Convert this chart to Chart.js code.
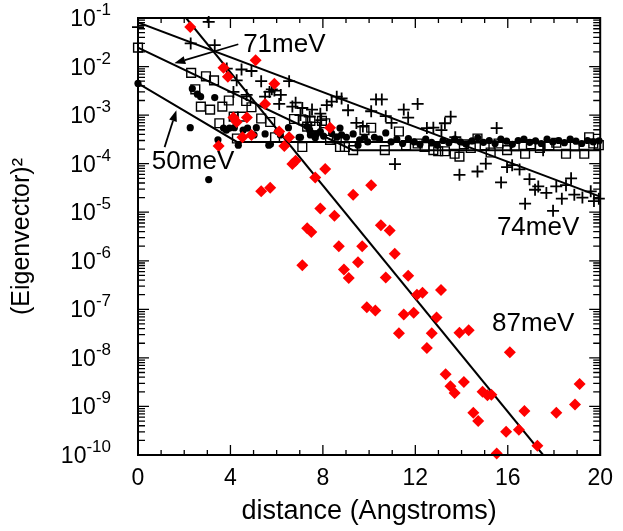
<!DOCTYPE html>
<html>
<head>
<meta charset="utf-8">
<script src="https://cdn.jsdelivr.net/npm/chart.js@4.4.0/dist/chart.umd.min.js"></script>
<style>
    html, body { margin: 0; padding: 0; background: #fff; }
    canvas { display: block; }
</style>
</head>
<body>
<canvas id="chart" width="623" height="531"></canvas>
<script>
// 50meV (filled circles)
const x50 = [0, 2.26, 2.35, 2.57, 2.71, 3.06, 3.32, 3.46, 3.70, 3.82, 3.96, 4.17, 4.34, 4.55, 4.74, 5.02, 5.12, 5.50, 5.66, 5.73,
    6.04, 6.16, 6.51, 6.97, 7.03, 7.32, 7.43, 7.46, 7.67, 7.72, 7.89, 8.03, 8.38, 8.60, 8.74, 8.81, 9.02, 9.31, 9.52, 9.59,
    9.80, 9.94, 10.23, 10.45, 10.72, 10.95, 11.2, 11.45, 11.7, 11.95, 12.2, 12.45, 12.7, 12.95, 13.2, 13.45, 13.7, 13.95,
    14.2, 14.45, 14.7, 14.95, 15.2, 15.45, 15.7, 15.95, 16.2, 16.45, 16.7, 16.95, 17.2, 17.45, 17.7, 17.95, 18.2, 18.45,
    18.7, 18.95, 19.2, 19.45, 19.7, 19.95]
const y50 = [4.5e-3, 5.5e-4, 3.5e-3, 2.7e-3, 2.4e-3, 4.7e-5, 2.3e-3, 3.1e-4, 5.4e-4, 4.9e-4, 5.4e-4, 5.5e-4, 2.4e-4, 4.9e-4, 5.4e-4, 3.9e-4, 5.5e-4, 4.1e-4, 2.4e-4, 2.5e-4,
    4.6e-4, 3.9e-4, 5.5e-4, 3.5e-4, 3.5e-4, 5.8e-4, 4.9e-4, 3.9e-4, 3.4e-4, 4.1e-4, 4.6e-4, 3.7e-4, 4.2e-4, 3.5e-4, 5.4e-4, 3.9e-4, 3.5e-4, 4.1e-4, 2.4e-4, 3.1e-4,
    3.5e-4, 2.8e-4, 3.5e-4, 3.2e-4, 4.3e-4, 2.8e-4, 3.2e-4, 2.6e-4, 3.3e-4, 2.8e-4, 2.5e-4, 3.2e-4, 2.75e-4, 2.4e-4, 3.0e-4, 2.7e-4, 3.2e-4, 2.8e-4,
    2.5e-4, 2.95e-4, 3.4e-4, 2.75e-4, 3.0e-4, 2.6e-4, 3.2e-4, 2.9e-4, 2.5e-4, 3.0e-4, 3.2e-4, 2.75e-4, 2.95e-4, 2.6e-4, 3.2e-4, 2.8e-4, 3.0e-4, 2.7e-4,
    3.2e-4, 2.9e-4, 2.6e-4, 3.0e-4, 2.8e-4, 2.95e-4]

// 71meV (open squares)
const x71 = [0, 2.30, 2.48, 2.72, 2.94, 3.12, 3.29, 3.52, 3.65, 3.93, 4.14, 4.28, 4.50, 4.68, 4.91, 5.33, 5.72, 5.93, 6.75, 7.11,
    7.15, 7.32, 7.46, 7.67, 7.96, 8.10, 8.31, 8.60, 8.74, 8.95, 9.31, 9.80, 10.09, 10.68, 11.29, 11.6, 12.1, 12.4, 12.78, 12.99,
    13.28, 13.70, 13.91, 14.1, 14.4, 14.69, 15.0, 15.26, 15.6, 15.97, 16.3, 16.75, 17.0, 17.39, 17.8, 18.1, 18.52, 18.9, 19.31, 19.52,
    19.7, 19.94]
const y71 = [2.45e-2, 7.4e-3, 3.4e-3, 1.5e-3, 6.3e-3, 1.3e-3, 5.2e-3, 6.8e-4, 1.5e-3, 2.0e-3, 9.3e-4, 3.3e-4, 9.3e-4, 1.95e-3, 1.45e-3, 8.5e-4, 7.2e-4, 3.5e-4, 8.3e-4, 2.2e-4,
    7.9e-4, 5.8e-4, 7.6e-4, 5.8e-4, 7.6e-4, 6.8e-4, 3.1e-4, 3.3e-4, 2.2e-4, 2.2e-4, 1.9e-4, 4.9e-4, 5.5e-4, 1.9e-4, 4.6e-4, 2.4e-4, 2.6e-4, 2.2e-4, 1.9e-4, 1.8e-4,
    1.8e-4, 1.6e-4, 1.4e-4, 2.5e-4, 2.1e-4, 3.3e-4, 2.4e-4, 1.7e-4, 2.6e-4, 1.9e-4, 2.3e-4, 1.6e-4, 2.5e-4, 2.1e-4, 2.4e-4, 2.7e-4, 1.6e-4, 2.3e-4, 1.6e-4, 3.5e-4,
    2.6e-4, 2.4e-4]

// 74meV (plus signs)
const x74 = [0, 2.28, 3.06, 3.32, 3.84, 4.13, 4.27, 4.48, 4.70, 4.91, 5.33, 5.50, 5.69, 5.79, 5.90, 6.11, 6.18, 6.54, 6.68, 6.82,
    7.03, 7.11, 7.43, 7.53, 7.89, 7.93, 8.17, 8.38, 8.60, 8.81, 9.09, 9.45, 9.73, 10.09, 10.30, 10.55, 10.72, 10.97, 11.12, 11.50,
    11.69, 12.10, 12.50, 12.78, 13.13, 13.28, 13.53, 13.73, 13.91, 14.69, 15.05, 15.52, 15.71, 15.97, 16.19, 16.51, 16.75, 16.94, 17.18, 17.32,
    17.53, 17.67, 17.96, 18.10, 18.34, 18.52, 18.74, 18.88, 19.23, 19.59, 19.73, 19.94]
const y74 = [6.5e-2, 3.0e-2, 8.3e-2, 2.75e-2, 9.1e-3, 3.0e-3, 5.2e-3, 8.7e-3, 2.6e-3, 8.1e-3, 5.0e-3, 2.4e-3, 3.0e-3, 3.4e-3, 3.2e-3, 1.7e-3, 2.6e-3, 5.0e-3, 1.5e-3, 1.8e-3,
    1.0e-3, 1.4e-3, 9.3e-4, 1.3e-3, 1.07e-3, 7.9e-4, 1.6e-3, 1.9e-3, 2.4e-3, 2.2e-3, 1.26e-3, 6.9e-4, 5.8e-4, 1.2e-3, 2.1e-3, 2.1e-3, 9.5e-4, 6.9e-4, 9.8e-5, 1.3e-3,
    8.9e-4, 1.7e-3, 5.4e-4, 5.5e-4, 4.9e-4, 6.8e-4, 9.3e-4, 3.5e-4, 5.9e-5, 6.9e-5, 1.0e-4, 5.4e-4, 4.1e-5, 8.5e-5, 9.3e-5, 7.6e-5, 1.5e-5, 4.8e-5, 2.9e-5, 3.4e-5,
    1.9e-4, 2.5e-5, 1.07e-5, 3.4e-5, 1.9e-5, 3.6e-5, 5.0e-5, 2.3e-5, 2.0e-5, 2.7e-5, 1.7e-5, 1.9e-5]

// 87meV (red diamonds)
const x87 = [2.26, 3.49, 3.70, 3.89, 4.13, 4.27, 4.52, 4.71, 4.91, 5.09, 5.33, 5.50, 5.72, 5.90, 6.11, 6.33, 6.54, 6.68, 6.82, 7.11,
    7.32, 7.50, 7.67, 7.89, 8.10, 8.31, 8.50, 8.69, 8.91, 9.12, 9.31, 9.52, 9.70, 9.90, 10.09, 10.27, 10.51, 10.72, 10.89, 11.11,
    11.29, 11.50, 11.69, 11.93, 12.07, 12.31, 12.50, 12.71, 12.92, 13.11, 13.31, 13.52, 13.70, 13.91, 14.10, 14.31, 14.51, 14.72, 14.91, 15.12,
    15.29, 15.52, 15.93, 16.09, 16.48, 16.72, 17.28, 18.10, 18.91, 19.11]
const y87 = [6.5e-2, 2.3e-4, 9.5e-3, 6.2e-3, 8.9e-4, 7.2e-4, 3.5e-4, 8.9e-4, 3.9e-4, 1.35e-2, 2.7e-5, 1.7e-3, 3.2e-5, 4.4e-3, 4.6e-4, 2.3e-4, 3.5e-4, 9.8e-5, 1.15e-4, 8.1e-7,
    4.7e-6, 3.9e-6, 5.2e-5, 1.2e-5, 7.8e-5, 5.5e-4, 8.5e-6, 2.0e-6, 6.6e-7, 4.4e-7, 2.3e-5, 9.3e-7, 2.0e-6, 1.1e-7, 3.6e-5, 9.5e-8, 5.4e-6, 4.5e-7, 4.2e-6, 1.4e-6,
    3.2e-8, 7.8e-8, 4.9e-7, 8.5e-8, 2.0e-7, 2.2e-7, 1.6e-8, 3.2e-8, 6.8e-8, 2.5e-7, 4.6e-9, 2.6e-9, 1.9e-9, 3.3e-8, 3.2e-9, 3.7e-8, 7.4e-10, 5.0e-10, 2.0e-9, 1.7e-9,
    1.75e-9, 1.07e-10, 3.0e-10, 1.3e-8, 3.3e-10, 8.1e-10, 1.55e-10, 7.4e-10, 1.1e-9, 2.9e-9]

// fitted lines
const fit50X = [0, 4.28, 20]
const fit50Y = [4.5e-3, 2.8e-4, 2.8e-4]
const fit71X = [0, 9.3, 20]
const fit71Y = [2.45e-2, 1.9e-4, 1.9e-4]
const fit74X = [0, 20]
const fit74Y = [8.1e-2, 2.1e-5]
const fit87X = [2.08, 17.53]
const fit87Y = [1e-1, 1e-10]

// ticks
const xTickLabels = [0, 4, 8, 12, 16, 20]
const yExponents = [-1, -2, -3, -4, -5, -6, -7, -8, -9, -10]

// annotations
const noteText = ['71meV', '50meV', '74meV', '87meV']
const noteX = [4.55, 0.6, 15.53, 15.32]
const noteY = [1.97e-2, 7.8e-5, 3.44e-6, 3.5e-8]
const arrowFromX = [4.34, 1.15]
const arrowFromY = [2.88e-2, 2.19e-4]
const arrowToX = [1.57, 1.66]
const arrowToY = [1.17e-2, 1.26e-3]

const font = 'Liberation Sans, Arial, sans-serif'

function pts(xs, ys) {
    return xs.map((x, i) => ({ x: x, y: ys[i] }))
}

function fitLine(xs, ys) {
    return {
        type: 'line',
        data: pts(xs, ys),
        borderColor: '#000',
        borderWidth: 2,
        pointRadius: 0,
        fill: false,
        tension: 0
    }
}

const framePlugin = {
    id: 'frame',
    afterDatasetsDraw(chart) {
        const ctx = chart.ctx
        const a = chart.chartArea
        const sx = chart.scales.x
        const sy = chart.scales.y
        ctx.save()
        ctx.strokeStyle = '#000'
        ctx.fillStyle = '#000'

        // inward ticks on all four sides
        ctx.lineWidth = 1.3
        ctx.beginPath()
        for (let v = 0; v <= 20; v++) {
            const p = sx.getPixelForValue(v)
            const len = v % 4 === 0 ? 10 : 5
            ctx.moveTo(p, a.bottom); ctx.lineTo(p, a.bottom - len)
            ctx.moveTo(p, a.top); ctx.lineTo(p, a.top + len)
        }
        for (let e = -10; e <= -1; e++) {
            for (let m = 1; m <= 9; m++) {
                if (e === -1 && m > 1) break
                const p = sy.getPixelForValue(m * Math.pow(10, e))
                const len = m === 1 ? 11 : 7
                ctx.moveTo(a.left, p); ctx.lineTo(a.left + len, p)
                ctx.moveTo(a.right, p); ctx.lineTo(a.right - len, p)
            }
        }
        ctx.stroke()

        ctx.lineWidth = 2
        ctx.strokeRect(a.left, a.top, a.right - a.left, a.bottom - a.top)

        // y tick labels with superscript exponents
        const right = 111
        yExponents.forEach(e => {
            const p = sy.getPixelForValue(Math.pow(10, e))
            const exp = String(e)
            ctx.font = '17px ' + font
            const we = ctx.measureText(exp).width
            ctx.textAlign = 'left'
            ctx.textBaseline = 'alphabetic'
            ctx.fillText(exp, right - we, p - 3)
            ctx.font = '23px ' + font
            ctx.textAlign = 'right'
            ctx.fillText('10', right - we, p + 8)
        })

        // annotations
        ctx.font = '26px ' + font
        ctx.textAlign = 'left'
        ctx.textBaseline = 'alphabetic'
        noteText.forEach((t, i) => {
            ctx.fillText(t, sx.getPixelForValue(noteX[i]), sy.getPixelForValue(noteY[i]))
        })

        ctx.lineWidth = 1.8
        arrowFromX.forEach((fx, i) => {
            const x1 = sx.getPixelForValue(fx)
            const y1 = sy.getPixelForValue(arrowFromY[i])
            const x2 = sx.getPixelForValue(arrowToX[i])
            const y2 = sy.getPixelForValue(arrowToY[i])
            const ang = Math.atan2(y2 - y1, x2 - x1)
            const hl = 11
            const hw = 4
            const bx = x2 - hl * Math.cos(ang)
            const by = y2 - hl * Math.sin(ang)
            ctx.beginPath()
            ctx.moveTo(x1, y1)
            ctx.lineTo(bx, by)
            ctx.stroke()
            ctx.beginPath()
            ctx.moveTo(x2, y2)
            ctx.lineTo(bx - hw * Math.sin(ang), by + hw * Math.cos(ang))
            ctx.lineTo(bx + hw * Math.sin(ang), by - hw * Math.cos(ang))
            ctx.closePath()
            ctx.fill()
        })
        ctx.restore()
    }
}

const ctx = document.getElementById('chart').getContext('2d')

const chart = new Chart(ctx, {
    type: 'scatter',
    data: {
        datasets: [
            {
                label: '87meV',
                data: pts(x87, y87),
                pointStyle: 'rectRot',
                pointRadius: 6,
                backgroundColor: '#ff0000',
                borderColor: '#ff0000',
                borderWidth: 0,
                clip: false
            },
            {
                label: '50meV',
                data: pts(x50, y50),
                pointStyle: 'circle',
                pointRadius: 3.6,
                backgroundColor: '#000',
                borderColor: '#000',
                borderWidth: 0,
                clip: false
            },
            {
                label: '71meV',
                data: pts(x71, y71),
                pointStyle: 'rect',
                pointRadius: 6.2,
                backgroundColor: 'rgba(0,0,0,0)',
                borderColor: '#000',
                borderWidth: 1.4,
                clip: false
            },
            {
                label: '74meV',
                data: pts(x74, y74),
                pointStyle: 'cross',
                pointRadius: 6,
                borderColor: '#000',
                borderWidth: 1.8,
                clip: false
            },
            fitLine(fit50X, fit50Y),
            fitLine(fit71X, fit71Y),
            fitLine(fit74X, fit74Y),
            fitLine(fit87X, fit87Y)
        ]
    },
    options: {
        responsive: false,
        animation: false,
        devicePixelRatio: 1,
        layout: { padding: { top: 18, right: 15, left: 0, bottom: 0 } },
        plugins: {
            legend: { display: false },
            tooltip: { enabled: false }
        },
        scales: {
            x: {
                type: 'linear',
                min: 0,
                max: 20,
                afterBuildTicks: s => { s.ticks = xTickLabels.map(v => ({ value: v })) },
                afterFit: s => { s.height = 76 },
                grid: { display: false, drawTicks: false },
                border: { display: false },
                ticks: {
                    font: { family: font, size: 23 },
                    color: '#000',
                    padding: 10,
                    maxRotation: 0,
                    autoSkip: false
                },
                title: {
                    display: true,
                    text: 'distance (Angstroms)',
                    font: { family: font, size: 27 },
                    color: '#000',
                    padding: { top: 0, bottom: 3 }
                }
            },
            y: {
                type: 'logarithmic',
                min: 1e-10,
                max: 1e-1,
                afterFit: s => { s.width = 138 },
                grid: { display: false, drawTicks: false },
                border: { display: false },
                ticks: { display: false },
                title: {
                    display: true,
                    text: '(Eigenvector)²',
                    font: { family: font, size: 25 },
                    color: '#000',
                    padding: { top: 7, bottom: 0 }
                }
            }
        }
    },
    plugins: [framePlugin]
})
</script>
</body>
</html>
